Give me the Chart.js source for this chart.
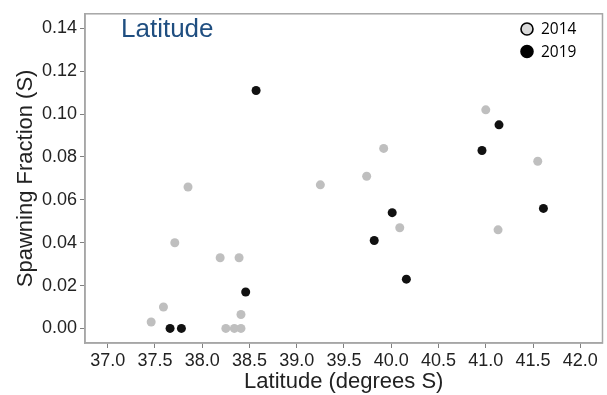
<!DOCTYPE html>
<html>
<head>
<meta charset="utf-8">
<script src="https://cdn.jsdelivr.net/npm/chart.js@4/dist/chart.umd.min.js"></script>
<style>
    html, body { margin: 0; padding: 0; background: #fff; }
    #wrap { width: 607px; height: 395px; }
</style>
</head>
<body>
<div id="wrap"><canvas id="myChart" width="607" height="395"></canvas></div>
<script>
// Datos: latitud (grados S) y fracción de desove
const lat2014 = [37.46, 37.59, 37.71, 37.85, 38.19, 38.25, 38.34, 38.39, 38.41, 38.41, 39.25, 39.74, 39.92, 40.09, 41.00, 41.13, 41.55];
const sf2014  = [0.003, 0.010, 0.040, 0.066, 0.033, 0.000, 0.000, 0.033, 0.0065, 0.000, 0.067, 0.071, 0.084, 0.047, 0.102, 0.046, 0.078];

const lat2019 = [37.66, 37.78, 38.46, 38.57, 39.82, 40.01, 40.16, 40.96, 41.14, 41.61];
const sf2019  = [0.000, 0.000, 0.017, 0.111, 0.041, 0.054, 0.023, 0.083, 0.095, 0.056];

const xTicks = [37.0, 37.5, 38.0, 38.5, 39.0, 39.5, 40.0, 40.5, 41.0, 41.5, 42.0];
const yTicks = [0.00, 0.02, 0.04, 0.06, 0.08, 0.10, 0.12, 0.14];

const seriesNames = ["2014", "2019"];
const panelTitle = "Latitude";

// Convierte pares x/y en puntos para Chart.js
function toPoints(xs, ys) {
    return xs.map((x, i) => ({x: x, y: ys[i]}));
}

// Plugin para el borde del panel, el título interno y la leyenda
const panelExtras = {
    id: 'panelExtras',
    afterDraw(chart) {
        const {ctx, chartArea} = chart;
        ctx.save();
        // borde completo del panel
        ctx.strokeStyle = '#a6a6a6';
        ctx.lineWidth = 1.5;
        ctx.strokeRect(chartArea.left, chartArea.top, chartArea.right - chartArea.left, chartArea.bottom - chartArea.top);

        // título dentro del panel
        ctx.fillStyle = '#1f4e80';
        ctx.font = '26px "Liberation Sans", Arial, sans-serif';
        ctx.textBaseline = 'middle';
        ctx.textAlign = 'left';
        ctx.fillText(panelTitle, 121, 30);

        // leyenda
        ctx.font = '15.5px "Open Sans", sans-serif';
        const items = [
            {label: seriesNames[0], fill: '#d9d9d9', y: 29},
            {label: seriesNames[1], fill: '#000000', y: 51.5}
        ];
        items.forEach(item => {
            ctx.beginPath();
            ctx.arc(527, item.y, 6, 0, Math.PI * 2);
            ctx.fillStyle = item.fill;
            ctx.fill();
            ctx.lineWidth = 1.6;
            ctx.strokeStyle = '#000';
            ctx.stroke();
            ctx.fillStyle = '#000';
            ctx.fillText(item.label, 541, item.y + 1);
        });
        ctx.restore();
    }
};

const ctx = document.getElementById('myChart').getContext('2d');
const myChart = new Chart(ctx, {
    type: 'scatter',
    data: {
        datasets: [
            {
                label: seriesNames[0],
                data: toPoints(lat2014, sf2014),
                backgroundColor: '#bfbfbf',
                borderWidth: 0,
                pointRadius: 4.5
            },
            {
                label: seriesNames[1],
                data: toPoints(lat2019, sf2019),
                backgroundColor: '#111111',
                borderWidth: 0,
                pointRadius: 4.5
            }
        ]
    },
    plugins: [panelExtras],
    options: {
        responsive: false,
        animation: false,
        layout: { padding: { top: 5, right: 3, left: 13, bottom: 0 } },
        plugins: {
            legend: { display: false },
            tooltip: { enabled: false }
        },
        scales: {
            x: {
                type: 'linear',
                min: 36.76,
                max: 42.235,
                afterBuildTicks: s => { s.ticks = xTicks.map(v => ({value: v})); },
                afterFit: s => { s.height = 52; },
                grid: { drawOnChartArea: false, color: '#808080', tickLength: 5 },
                border: { display: true, color: '#a6a6a6', width: 1.5 },
                ticks: {
                    color: '#222',
                    padding: 2,
                    maxRotation: 0,
                    font: { family: '"Liberation Sans", Arial, sans-serif', size: 18 },
                    callback: v => v.toFixed(1)
                },
                title: {
                    display: true,
                    text: 'Latitude (degrees S)',
                    color: '#222',
                    padding: { top: 0, bottom: 0 },
                    font: { family: '"Liberation Sans", Arial, sans-serif', size: 22 }
                }
            },
            y: {
                min: -0.0068,
                max: 0.1468,
                afterBuildTicks: s => { s.ticks = yTicks.map(v => ({value: v})); },
                afterFit: s => { s.width = 72; },
                grid: { drawOnChartArea: false, color: '#808080', tickLength: 5 },
                border: { display: true, color: '#a6a6a6', width: 1.5 },
                ticks: {
                    color: '#222',
                    padding: 3,
                    font: { family: '"Liberation Sans", Arial, sans-serif', size: 18 },
                    callback: v => v.toFixed(2)
                },
                title: {
                    display: true,
                    text: 'Spawning Fraction (S)',
                    color: '#222',
                    padding: { top: 0, bottom: 0 },
                    font: { family: '"Liberation Sans", Arial, sans-serif', size: 22 }
                }
            }
        }
    }
});
</script>
</body>
</html>
